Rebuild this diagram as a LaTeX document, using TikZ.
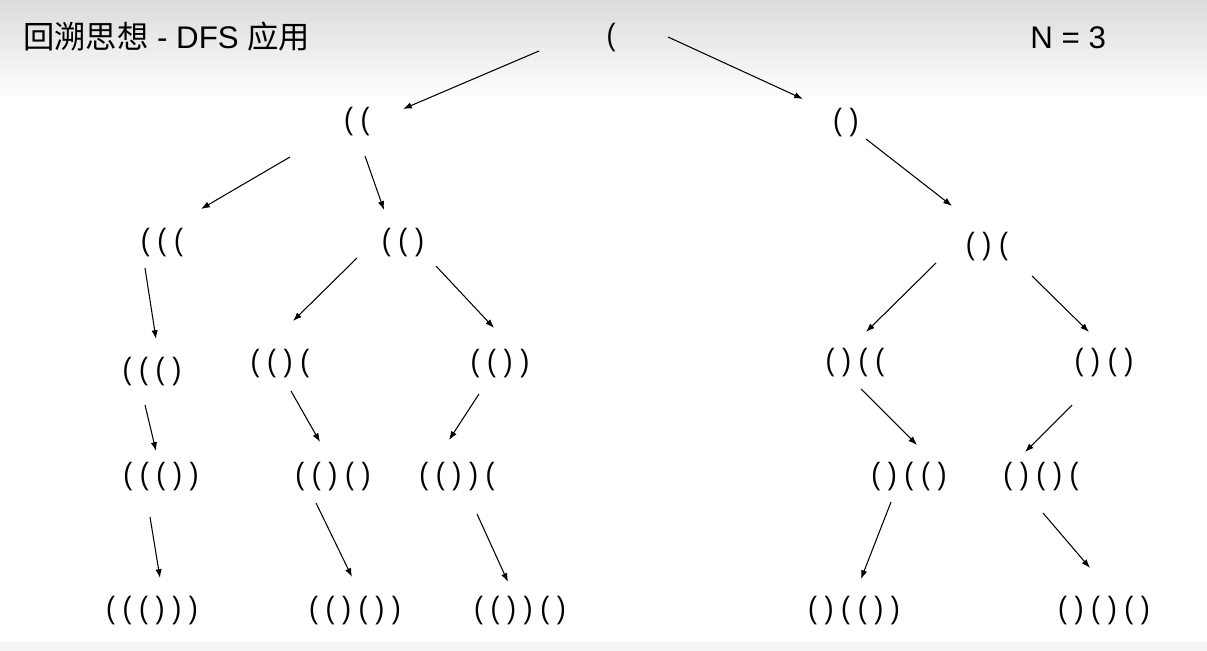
\documentclass[tikz,border=0pt]{standalone}
\usepackage{fontspec}
\setmainfont{Liberation Sans}
\newfontfamily\cjk{Noto Sans CJK SC}
\usetikzlibrary{arrows.meta}

\begin{document}
\begin{tikzpicture}[x=0.02cm,y=-0.02cm,
  paren/.style={inner sep=0pt,xscale=0.88,font=\fontsize{17.5}{21}\selectfont},
  arr/.style={line width=0.6pt,-{Latex[length=5pt,width=3.6pt]}}]
\useasboundingbox (0,0) rectangle (1207,651);
\fill[white] (0,0) rectangle (1207,651);
\shade[top color=black!14,bottom color=white] (0,0) rectangle (1207,100);
\fill[black!4] (0,642) rectangle (1207,651);
% header
\node[anchor=west,inner sep=0pt,font=\fontsize{17.8}{21}\selectfont] (title) at (23,37) {{\cjk 回溯思想} - DFS {\cjk 应用}};
\node[anchor=west,inner sep=0pt,font=\fontsize{17.8}{21}\selectfont] (num) at (1030,38) {N = 3};
% tree
\node[paren] (root) at (611,38) {(};
\node[paren] (l) at (357,122) {( (};
\node[paren] (r) at (846,123) {( )};
\node[paren] (ll) at (162,243) {( ( (};
\node[paren] (lr) at (403,243) {( ( )};
\node[paren] (rr) at (987,247) {( ) (};
\node[paren] (lll) at (152,372) {( ( ( )};
\node[paren] (lrl) at (280,364) {( ( ) (};
\node[paren] (lrr) at (500,364) {( ( ) )};
\node[paren] (rrl) at (855,363) {( ) ( (};
\node[paren] (rrr) at (1104,363) {( ) ( )};
\node[paren] (llll) at (161,477) {( ( ( ) )};
\node[paren] (lrll) at (333,477) {( ( ) ( )};
\node[paren] (lrrl) at (457,477) {( ( ) ) (};
\node[paren] (rrll) at (909,477) {( ) ( ( )};
\node[paren] (rrrl) at (1041,477) {( ) ( ) (};
\node[paren] (lllll) at (152,611) {( ( ( ) ) )};
\node[paren] (lrlll) at (355,611) {( ( ) ( ) )};
\node[paren] (lrrll) at (520,611) {( ( ) ) ( )};
\node[paren] (rrlll) at (854,611) {( ) ( ( ) )};
\node[paren] (rrrll) at (1104,611) {( ) ( ) ( )};
% arrows
\draw[arr] ([shift={(-72,13)}]root.center) -- ([shift={(46,-13)}]l.center);
\draw[arr] ([shift={(57,-1)}]root.center) -- ([shift={(-43,-24)}]r.center);
\draw[arr] ([shift={(-67,35)}]l.center) -- ([shift={(39,-34)}]ll.center);
\draw[arr] ([shift={(8,34)}]l.center) -- ([shift={(-19,-33)}]lr.center);
\draw[arr] ([shift={(20,16)}]r.center) -- ([shift={(-35,-41)}]rr.center);
\draw[arr] ([shift={(-17,25)}]ll.center) -- ([shift={(4,-33)}]lll.center);
\draw[arr] ([shift={(-46,15)}]lr.center) -- ([shift={(13,-43)}]lrl.center);
\draw[arr] ([shift={(33,23)}]lr.center) -- ([shift={(-6,-36)}]lrr.center);
\draw[arr] ([shift={(-51,16)}]rr.center) -- ([shift={(11,-31)}]rrl.center);
\draw[arr] ([shift={(45,29)}]rr.center) -- ([shift={(-15,-31)}]rrr.center);
\draw[arr] ([shift={(-7,33)}]lll.center) -- ([shift={(-5,-26)}]llll.center);
\draw[arr] ([shift={(11,27)}]lrl.center) -- ([shift={(-13,-35)}]lrll.center);
\draw[arr] ([shift={(-21,30)}]lrr.center) -- ([shift={(-8,-37)}]lrrl.center);
\draw[arr] ([shift={(-11,40)}]llll.center) -- ([shift={(8,-33)}]lllll.center);
\draw[arr] ([shift={(-17,26)}]lrll.center) -- ([shift={(-3,-34)}]lrlll.center);
\draw[arr] ([shift={(20,37)}]lrrl.center) -- ([shift={(-12,-29)}]lrrll.center);
\draw[arr] ([shift={(6,26)}]rrl.center) -- ([shift={(8,-32)}]rrll.center);
\draw[arr] ([shift={(-32,42)}]rrr.center) -- ([shift={(-16,-25)}]rrrl.center);
\draw[arr] ([shift={(-18,25)}]rrll.center) -- ([shift={(7,-32)}]rrlll.center);
\draw[arr] ([shift={(2,36)}]rrrl.center) -- ([shift={(-14,-43)}]rrrll.center);
\end{tikzpicture}
\end{document}
